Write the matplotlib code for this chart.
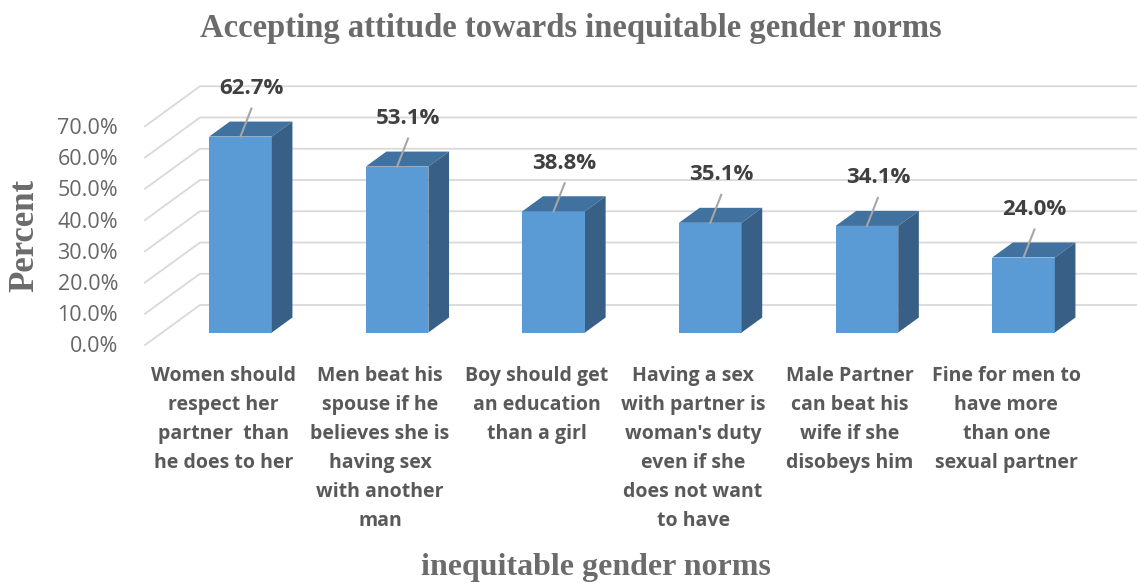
import matplotlib
matplotlib.use("Agg")
import matplotlib.pyplot as plt
from matplotlib.patches import Polygon

# ---- data ----
categories = [
    "Women should\nrespect her\npartner  than\nhe does to her",
    "Men beat his\nspouse if he\nbelieves she is\nhaving sex\nwith another\nman",
    "Boy should get\nan education\nthan a girl",
    "Having a sex\nwith partner is\nwoman's duty\neven if she\ndoes not want\nto have",
    "Male Partner\ncan beat his\nwife if she\ndisobeys him",
    "Fine for men to\nhave more\nthan one\nsexual partner",
]
values = [62.7, 53.1, 38.8, 35.1, 34.1, 24.0]
value_labels = ["62.7%", "53.1%", "38.8%", "35.1%", "34.1%", "24.0%"]
yticks = [0, 10, 20, 30, 40, 50, 60, 70]
ytick_labels = ["0.0%", "10.0%", "20.0%", "30.0%", "40.0%", "50.0%", "60.0%", "70.0%"]
title = "Accepting attitude towards inequitable gender norms"
xlabel = "inequitable gender norms"
ylabel = "Percent"

# ---- geometry (pixel based) ----
W, H = 1137, 583
DPI = 100
CAT_PX = 156.6      # px per category
PCT_PX = 3.125      # px per percent
X0_PX = 145         # left wall front x pixel (category -0.5)
Y0_PX = 345         # 0% at front, pixel from top
DX = 55 / CAT_PX    # depth offset in category units
DV = 40 / PCT_PX    # depth offset in percent units
BAR_W = 0.40
D0, D1 = 0.3125, 0.6875

def px_to_x(px):
    return (px - X0_PX) / CAT_PX - 0.5

def py_to_y(py):
    return (Y0_PX - py) / PCT_PX

def P(x, v, d):
    return (x + d * DX, v + d * DV)

fig = plt.figure(figsize=(W / DPI, H / DPI), dpi=DPI)
ax = fig.add_axes([0, 0, 1, 1])
ax.set_xlim(px_to_x(0), px_to_x(W))
ax.set_ylim(py_to_y(H), py_to_y(0))
ax.axis("off")

grid_c = "#D9D9D9"
xl, xr = -0.5, len(values) - 0.5
for v in yticks:
    a = P(xl, v, 0)
    b = P(xl, v, 1)
    c = P(xr, v, 1)
    ax.plot([a[0], b[0], c[0]], [a[1], b[1], c[1]], color=grid_c, lw=1.3,
            solid_joinstyle="miter", zorder=1)

text_c = "#595959"
for v, lab in zip(yticks, ytick_labels):
    x, y = P(xl, v, 0)
    ax.text(x - 27 / CAT_PX, y - 2 / PCT_PX, lab, ha="right", va="center",
            fontsize=15.5, color="#666666", family="Open Sans")

front_c = "#5B9BD5"
top_c = "#41729F"
side_c = "#385F85"
xs = list(range(len(values)))
ax.bar([x + D0 * DX for x in xs], values, width=BAR_W, bottom=D0 * DV,
       color=front_c, zorder=3, linewidth=0)
for x, v in zip(xs, values):
    l, r = x - BAR_W / 2, x + BAR_W / 2
    top = [P(l, v, D0), P(r, v, D0), P(r, v, D1), P(l, v, D1)]
    side = [P(r, 0, D0), P(r, v, D0), P(r, v, D1), P(r, 0, D1)]
    ax.add_patch(Polygon(top, closed=True, facecolor=top_c, edgecolor="none", zorder=3))
    ax.add_patch(Polygon(side, closed=True, facecolor=side_c, edgecolor="none", zorder=3))

# data labels with leader lines
for x, v, lab in zip(xs, values, value_labels):
    bx, by = P(x, v, D0)
    lx = bx + 0.07
    ly = by + 48 / PCT_PX
    ax.plot([bx, lx], [by, ly - 20 / PCT_PX], color="#A6A6A6", lw=1.5, zorder=4)
    ax.text(lx, ly, lab, ha="center", va="center", fontsize=16,
            fontweight="bold", color="#404040", family="Open Sans", zorder=5)

# category labels
for x, lab in zip(xs, categories):
    ax.text(x, py_to_y(366), lab, ha="center", va="top", fontsize=14,
            fontweight="bold", color=text_c, family="Open Sans",
            linespacing=1.6)

fig.text(571 / W, 1 - 28 / H, title, ha="center", va="center", fontsize=23.5,
         fontweight="bold", color="#6B6B6B", family="Liberation Serif")
fig.text(596 / W, 1 - 567 / H, xlabel, ha="center", va="center", fontsize=23,
         fontweight="bold", color="#6B6B6B", family="Liberation Serif")
fig.text(25 / W, 1 - 235 / H, ylabel, ha="center", va="center", fontsize=25,
         fontweight="bold", color="#6B6B6B", family="Liberation Serif",
         rotation=90)

fig.savefig("out.png", dpi=DPI, facecolor="white")
